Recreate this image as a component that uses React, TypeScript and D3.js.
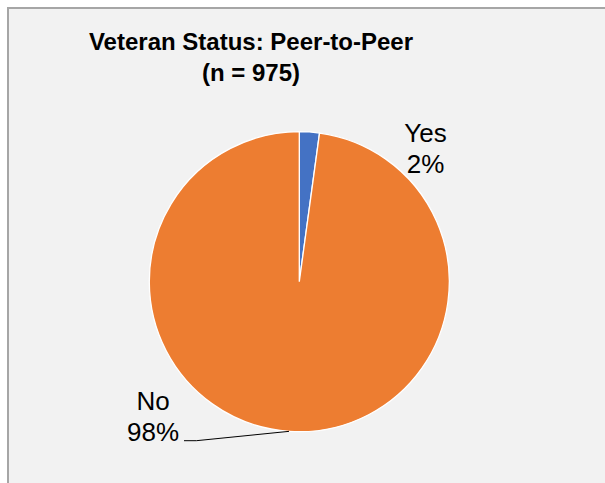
import React from "react";
import * as d3 from "d3";

const categories = ["Yes", "No"];
const counts = [21, 954];
const percentLabels = ["2%", "98%"];
const colors = ["#4472C4", "#ED7D31"];
const titleLines = ["Veteran Status: Peer-to-Peer", "(n = 975)"];

const W = 605;
const H = 483;
const cx = 299.3;
const cy = 281.7;
const R = 150;

// label layout (center x, first baseline)
const labelPos = [
  { x: 425.5, y: 141.7 },
  { x: 153, y: 410 },
];

export default function App() {
  const pie = d3.pie<number>().sort(null).value((d) => d)(counts);
  const arc = d3.arc<d3.PieArcDatum<number>>().innerRadius(0).outerRadius(R);

  const noLab = labelPos[1];
  const lineStartX = noLab.x + 31;
  const lineStartY = noLab.y + 30.7;
  const elbowX = lineStartX + 12.4;
  const ang = Math.PI + 0.0687;
  const edgeX = cx + R * Math.sin(ang);
  const edgeY = cy - R * Math.cos(ang);

  return (
    <div style={{ position: "fixed", left: 0, top: 0, width: W, height: H, overflow: "hidden" }}>
      <svg
        width={W}
        height={H}
        style={{ display: "block" }}
        fontFamily="'Liberation Sans', Arial, sans-serif"
      >
        <defs>
          <clipPath id="clipAll">
            <rect x={0} y={0} width={W} height={H} />
          </clipPath>
        </defs>
        <g clipPath="url(#clipAll)">
          <rect x={0} y={0} width={W} height={H} fill="#ffffff" />
          <rect x={8} y={8} width={W + 40} height={H + 40} fill="#F2F2F2" stroke="#A6A6A6" strokeWidth={2} />
        </g>
        <text textAnchor="middle" fontWeight="bold" fontSize={24} fill="#000">
          <tspan x={251} y={50}>{titleLines[0]}</tspan>
          <tspan x={251} y={81}>{titleLines[1]}</tspan>
        </text>
        <g transform={`translate(${cx},${cy})`}>
          {pie.map((p, i) => (
            <path key={categories[i]} d={arc(p) || ""} fill={colors[i]} stroke="#ffffff" strokeWidth={1.3} />
          ))}
        </g>
        <polyline
          points={`${lineStartX},${lineStartY} ${elbowX},${lineStartY} ${edgeX},${edgeY}`}
          fill="none"
          stroke="#000"
          strokeWidth={1}
        />
        {categories.map((c, i) => (
          <text key={c} textAnchor="middle" fontSize={26} fill="#000">
            <tspan x={labelPos[i].x} y={labelPos[i].y}>{c}</tspan>
            <tspan x={labelPos[i].x} y={labelPos[i].y + 31}>{percentLabels[i]}</tspan>
          </text>
        ))}
      </svg>
    </div>
  );
}
